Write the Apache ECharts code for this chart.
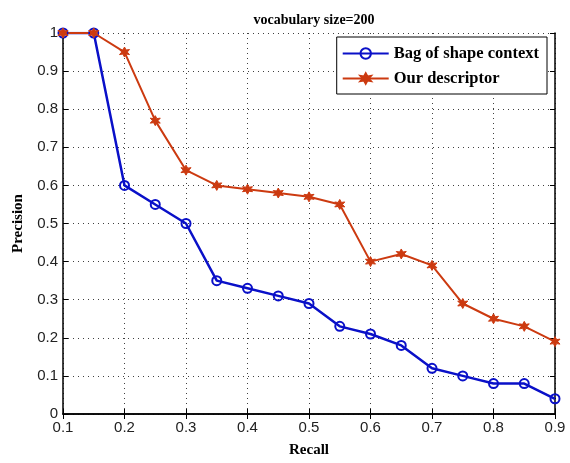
<!DOCTYPE html>
<html><head><meta charset="utf-8">
<script src="https://cdn.jsdelivr.net/npm/echarts@6/dist/echarts.min.js"></script>
<style>html,body{margin:0;padding:0;background:#fff}#c{width:570px;height:463px}</style>
</head><body><div id="c"></div>
<script>
const recall = [0.1,0.15,0.2,0.25,0.3,0.35,0.4,0.45,0.5,0.55,0.6,0.65,0.7,0.75,0.8,0.85,0.9];
const bagOfShapeContext = [1,1,0.6,0.55,0.5,0.35,0.33,0.31,0.29,0.23,0.21,0.18,0.12,0.10,0.08,0.08,0.04];
const ourDescriptor = [1,1,0.95,0.77,0.64,0.60,0.59,0.58,0.57,0.55,0.40,0.42,0.39,0.29,0.25,0.23,0.19];
const seriesNames = ['Bag of shape context','Our descriptor'];
const titleText = 'vocabulary size=200';
const xName = 'Recall';
const yName = 'Precision';

const star = 'path://M0,-10 L3,-4 L9,-5 L5,0 L9,5 L3,4 L0,10 L-3,4 L-9,5 L-5,0 L-9,-5 L-3,-4 Z';
const serif = 'Liberation Serif';
const sans = 'Liberation Sans';
const fmt = v => (Math.round(v*10)/10).toString();
const pair = arr => recall.map((x,i)=>[x,arr[i]]);

const chart = echarts.init(document.getElementById('c'));
const gridLine = {show:true, lineStyle:{color:'#000', type:[1,4], width:1, opacity:0.75}};
chart.setOption({
  animation:false,
  backgroundColor:'#fff',
  title:{text:titleText, left:309, top:8, textAlign:'center',
    textStyle:{fontFamily:serif, fontWeight:'bold', fontSize:14, color:'#000'}},
  grid:{left:63, right:15, top:33, bottom:43, containLabel:false},
  legend:{
    orient:'vertical', right:23, top:37, data:seriesNames,
    backgroundColor:'#fff', borderColor:'#000', borderWidth:1,
    padding:[8,8,7,5], itemGap:8, itemWidth:46, itemHeight:13,
    textStyle:{fontFamily:serif, fontWeight:'bold', fontSize:16.5, color:'#000'}
  },
  xAxis:[{
    type:'value', min:0.1, max:0.9, interval:0.1,
    name:xName, nameLocation:'middle', nameGap:29,
    nameTextStyle:{fontFamily:serif, fontWeight:'bold', fontSize:15, color:'#000'},
    axisLine:{show:true, onZero:false, lineStyle:{color:'#000', width:1.5}},
    axisTick:{show:true, inside:true, length:5, lineStyle:{color:'#000'}},
    axisLabel:{formatter:fmt, fontFamily:sans, fontSize:15, color:'#222', margin:6},
    splitLine:gridLine
  },{
    type:'value', position:'top', min:0.1, max:0.9, interval:0.1,
    axisLine:{show:true, lineStyle:{color:'#000', width:1.5}},
    axisTick:{show:true, inside:true, length:5, lineStyle:{color:'#000'}},
    axisLabel:{show:false}, splitLine:{show:false}
  }],
  yAxis:[{
    type:'value', min:0, max:1, interval:0.1,
    name:yName, nameLocation:'middle', nameGap:37,
    nameTextStyle:{fontFamily:serif, fontWeight:'bold', fontSize:15, color:'#000'},
    axisLine:{show:true, onZero:false, lineStyle:{color:'#000', width:1.5}},
    axisTick:{show:true, inside:true, length:5, lineStyle:{color:'#000'}},
    axisLabel:{formatter:fmt, fontFamily:sans, fontSize:15, color:'#222', margin:5},
    splitLine:gridLine
  },{
    type:'value', position:'right', min:0, max:1, interval:0.1,
    axisLine:{show:true, lineStyle:{color:'#000', width:1.5}},
    axisTick:{show:true, inside:true, length:5, lineStyle:{color:'#000'}},
    axisLabel:{show:false}, splitLine:{show:false}
  }],
  series:[{
    name:seriesNames[0], type:'line', data:pair(bagOfShapeContext),
    symbol:'circle', symbolSize:9, showAllSymbol:true,
    lineStyle:{color:'#0a10c8', width:2.5},
    itemStyle:{color:'rgba(255,255,255,0)', borderColor:'#0a10c8', borderWidth:2}
  },{
    name:seriesNames[1], type:'line', data:pair(ourDescriptor),
    symbol:star, symbolSize:10, showAllSymbol:true,
    lineStyle:{color:'#cc3a10', width:2},
    itemStyle:{color:'#cc3a10', borderColor:'#cc3a10', borderWidth:1}
  }]
});
</script></body></html>
